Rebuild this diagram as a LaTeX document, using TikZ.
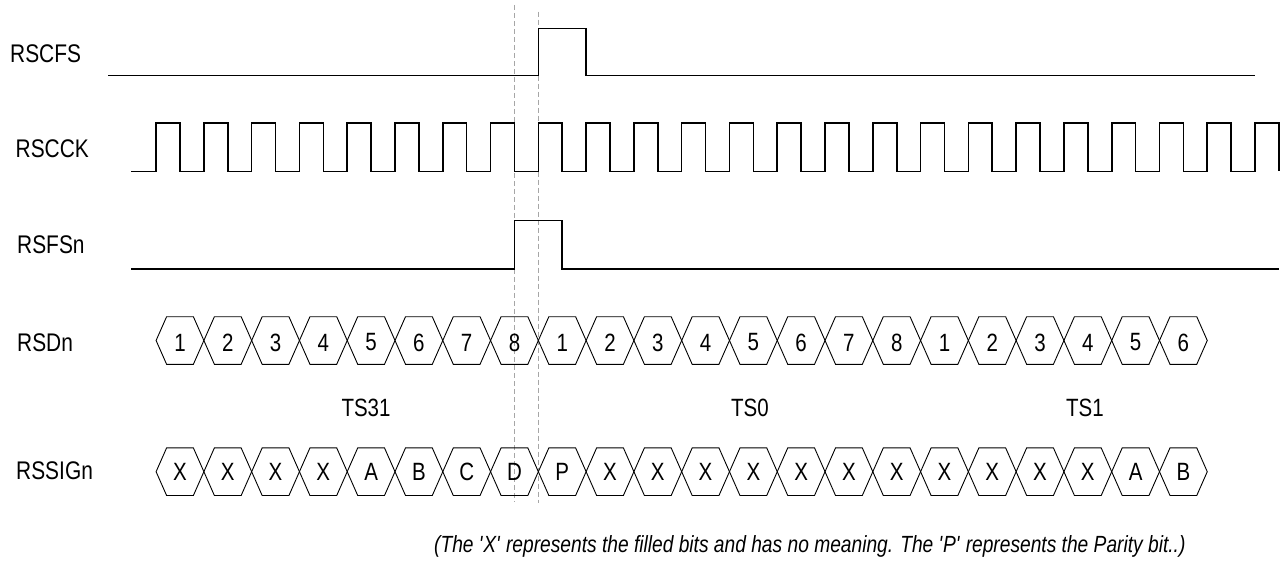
\documentclass[tikz,border=0pt]{standalone}
\usepackage{fontspec}
\setmainfont{Liberation Sans}[FakeStretch=0.82]
\begin{document}
\begin{tikzpicture}[x=1pt,y=-1pt,
  sig/.style={line width=1.6pt, line join=miter},
  hexs/.style={line width=0.9pt, line join=miter},
  guide/.style={draw=black!35, line width=0.9pt, dash pattern=on 5pt off 3pt},
  lbl/.style={font=\fontsize{25.5}{30}\selectfont, inner sep=0pt},
  bit/.style={font=\fontsize{25}{30}\selectfont, inner sep=0pt},
  note/.style={font=\fontsize{23.4}{28}\selectfont\itshape, inner sep=0pt}]
\useasboundingbox (0,0) rectangle (1282,561);
\def\p{47.78}
\def\rz{156.1}
\def\hw{23.89}
\def\sl{10.5}
\def\hh{23.8}
% guides
\draw[guide] (514.5,5) -- (514.5,502);
\draw[guide] (538.3,11.7) -- (538.3,503);
% labels
\node[lbl, anchor=west] (lcfs) at (10,54) {RSCFS};
\node[lbl, anchor=west] (lcck) at (15.5,149) {RSCCK};
\node[lbl, anchor=west] (lfsn) at (17,245) {RSFSn};
\node[lbl, anchor=west] (ldn) at (17,343) {RSDn};
\node[lbl, anchor=west] (lsig) at (16,471) {RSSIGn};
% RSCFS
\draw[sig] (108.3,75.5) -- ({\rz+8*\p},75.5) -- ({\rz+8*\p},28.7) -- ({\rz+9*\p},28.7) -- ({\rz+9*\p},75.5) -- ({\rz+23*\p},75.5);
% RSCCK
\draw[sig] (131.4,171.5) \foreach \k in {0,...,23} { -- ({\rz+\k*\p},171.5) -- ({\rz+\k*\p},123.3) -- ({\rz+\k*\p+\hw},123.3) -- ({\rz+\k*\p+\hw},171.5) };
% RSFSn
\draw[sig] (131.4,269) -- ({\rz+7*\p+\hw},269) -- ({\rz+7*\p+\hw},220.7) -- ({\rz+8*\p+\hw},220.7) -- ({\rz+8*\p+\hw},269) -- (1279,269);
% RSDn
\foreach \t [count=\i from 0] in {1,2,3,4,5,6,7,8,1,2,3,4,5,6,7,8,1,2,3,4,5,6} {
  \pgfmathsetmacro\xa{\rz+\i*\p}
  \pgfmathsetmacro\xb{\rz+(\i+1)*\p}
  \draw[hexs] (\xa,340.5) -- (\xa+\sl,340.5-\hh) -- (\xb-\sl,340.5-\hh) -- (\xb,340.5) -- (\xb-\sl,340.5+\hh) -- (\xa+\sl,340.5+\hh) -- cycle;
  \node[bit] (d\i) at ({(\xa+\xb)/2},342.5) {\t};
}
% TS labels
\node[bit] (ts31) at (366,408) {TS31};
\node[bit] (ts0) at (750,408) {TS0};
\node[bit] (ts1) at (1085,408) {TS1};
% RSSIGn
\foreach \t [count=\i from 0] in {X,X,X,X,A,B,C,D,P,X,X,X,X,X,X,X,X,X,X,X,A,B} {
  \pgfmathsetmacro\xa{\rz+\i*\p}
  \pgfmathsetmacro\xb{\rz+(\i+1)*\p}
  \draw[hexs] (\xa,471.7) -- (\xa+\sl,471.7-\hh) -- (\xb-\sl,471.7-\hh) -- (\xb,471.7) -- (\xb-\sl,471.7+\hh) -- (\xa+\sl,471.7+\hh) -- cycle;
  \node[bit] (s\i) at ({(\xa+\xb)/2},471.5) {\t};
}
% footnote
\node[note, anchor=west] (fn) at (434,546) {(The \textquotesingle X\textquotesingle{} represents the filled bits and has no meaning. The \textquotesingle P\textquotesingle{} represents the Parity bit..)};
\end{tikzpicture}
\end{document}
